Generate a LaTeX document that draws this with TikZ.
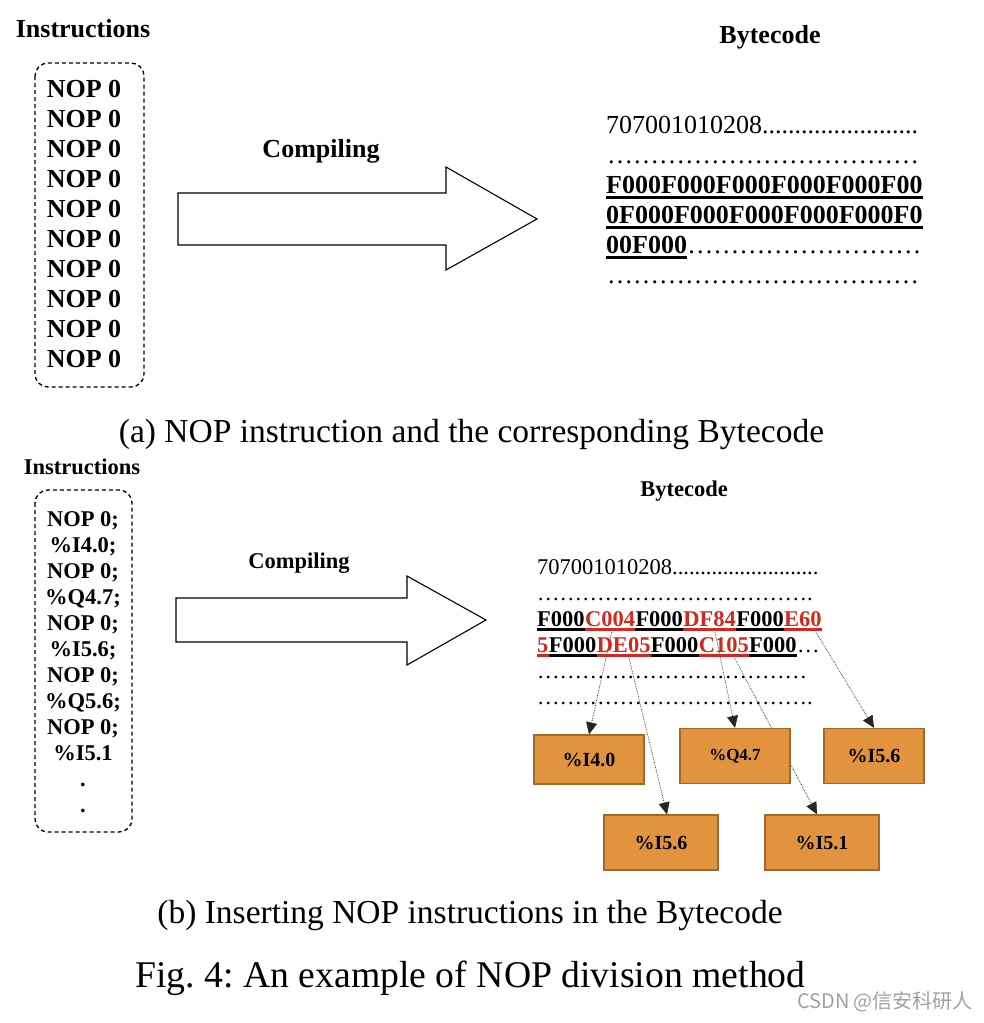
\documentclass[tikz,border=0pt]{standalone}
\usepackage{fontspec}
\setmainfont{Liberation Serif}
\newfontfamily\cjkfont{Noto Sans CJK SC}
\usetikzlibrary{arrows.meta,backgrounds}
\definecolor{redc}{RGB}{210,40,30}
\definecolor{orangec}{RGB}{225,147,62}
\definecolor{orangeb}{RGB}{160,105,45}
\definecolor{wmark}{RGB}{160,160,160}
\newcommand{\eee}{…}
\newcommand{\eeeF}{\eee\eee\eee\eee}
\pgfdeclarelayer{bgfill}
\pgfsetlayers{bgfill,background,main}
\tikzset{
  ibox/.style={draw, dash pattern=on 4pt off 3pt, line width=1.3pt, rounded corners=13pt},
  barrow/.style={draw, line width=1.1pt, fill=white},
  fa/.style={font=\fontsize{26}{30}\selectfont\bfseries, inner sep=0pt, anchor=base},
  fb/.style={font=\fontsize{22.5}{26}\selectfont\bfseries, inner sep=0pt, anchor=base},
  ta/.style={font=\fontsize{26}{30}\selectfont, inner sep=0pt, anchor=base west},
  tab/.style={font=\fontsize{26}{30}\selectfont\bfseries, inner sep=0pt, anchor=base west},
  tb/.style={font=\fontsize{22.5}{26}\selectfont, inner sep=0pt, anchor=base west},
  tbb/.style={font=\fontsize{22.5}{26}\selectfont\bfseries, inner sep=0pt, anchor=base west},
  ula/.style={line width=3pt},
  ulb/.style={line width=2.3pt},
  obox/.style={draw=orangeb, fill=orangec, line width=1.2pt, inner sep=0pt,
    font=\fontsize{20}{24}\selectfont\bfseries},
  conn/.style={draw=black!85, line width=0.7pt, densely dotted,
    -{Triangle[length=12pt,width=11pt]}},
  subcap/.style={font=\fontsize{33.5}{38}\selectfont, inner sep=0pt, anchor=base},
  figcap/.style={font=\fontsize{37.7}{42}\selectfont, inner sep=0pt, anchor=base},
}
\begin{document}
\frenchspacing
\begin{tikzpicture}[x=1pt,y=-1pt]
\begin{pgfonlayer}{bgfill}
  \fill[white] (0,0) rectangle (984,1023);
\end{pgfonlayer}
\useasboundingbox (0,0) rectangle (984,1023);

% ---------------- (a) ----------------
\node[fa] (insta) at (83,37) {Instructions};
\draw[ibox] (35,63) rectangle (144,387);
\foreach \i in {0,...,9} {
  \node[fa] (na\i) at (84,{97+30.1*\i}) {NOP 0};
}
\draw[barrow] (178,193) -- (446,193) -- (446,167) -- (537,219) -- (446,270) -- (446,245) -- (178,245) -- cycle;
\node[fa] (compa) at (321,157) {Compiling};
\node[fa] (bytea) at (770,43) {Bytecode};

\node[ta] (a1) at (606,133) {707001010208........................};
\node[ta] (a2) at (607,163) {\eeeF\eeeF\eeeF};
\node[tab] (a3) at (606,193) {F000F000F000F000F000F00};
\node[tab] (a4) at (606,223) {0F000F000F000F000F000F0};
\node[tab] (a5) at (606,253) {00F000};
\node[ta] (a5b) at (a5.base east) {\eeeF\eeeF\eee};
\node[ta] (a6) at (607,283) {\eeeF\eeeF\eeeF};
\foreach \n in {a3,a4,a5} {
  \draw[ula] ([yshift=-4pt]\n.base west) -- ([yshift=-4pt]\n.base east);
}

\node[subcap] (capa) at (471.5,442) {(a) NOP instruction and the corresponding Bytecode};

% ---------------- (b) ----------------
\node[fb] (instb) at (82,474) {Instructions};
\draw[ibox] (35,490) rectangle (132,832);
\foreach \t [count=\i from 0] in {NOP 0;,\%I4.0;,NOP 0;,\%Q4.7;,NOP 0;,\%I5.6;,NOP 0;,\%Q5.6;,NOP 0;,\%I5.1,.,.} {
  \node[fb] (nb\i) at (83,{526+26*\i}) {\t};
}
\draw[barrow] (176,598) -- (407,598) -- (407,576) -- (486,620) -- (407,665) -- (407,642) -- (176,642) -- cycle;
\node[fb] (compb) at (299,568) {Compiling};
\node[fb] (byteb) at (684,496) {Bytecode};

\node[tb] (b1) at (537,574) {707001010208..........................};
\node[tb] (b2) at (537,600) {\eeeF\eeeF\eeeF.};
% line 3
\node[tbb] (s1) at (537,626) {F000};
\node[tbb,text=redc] (s2) at (s1.base east) {C004};
\node[tbb] (s3) at (s2.base east) {F000};
\node[tbb,text=redc] (s4) at (s3.base east) {DF84};
\node[tbb] (s5) at (s4.base east) {F000};
\node[tbb,text=redc] (s6) at (s5.base east) {E60};
% line 4
\node[tbb,text=redc] (r1) at (537,652) {5};
\node[tbb] (r2) at (r1.base east) {F000};
\node[tbb,text=redc] (r3) at (r2.base east) {DE05};
\node[tbb] (r4) at (r3.base east) {F000};
\node[tbb,text=redc] (r5) at (r4.base east) {C105};
\node[tbb] (r6) at (r5.base east) {F000};
\node[tb] (r7) at (r6.base east) {\eee};
\foreach \n/\c in {s1/black,s2/redc,s3/black,s4/redc,s5/black,s6/redc,r1/redc,r2/black,r3/redc,r4/black,r5/redc,r6/black} {
  \draw[ulb,\c] ([yshift=-3.5pt]\n.base west) -- ([yshift=-3.5pt]\n.base east);
}
\node[tb] (b5) at (537,678) {\eeeF\eeeF\eeeF};
\node[tb] (b6) at (537,704) {\eeeF\eeeF\eeeF.};

% boxes
\node[obox, minimum width=110pt, minimum height=49pt] (o1) at (589,759.5) {\%I4.0};
\node[obox, minimum width=110pt, minimum height=55pt, font=\fontsize{17}{20}\selectfont\bfseries] (o2) at (735,756) {\%Q4.7};
\node[obox, minimum width=100pt, minimum height=55pt] (o3) at (874,756) {\%I5.6};
\node[obox, minimum width=114pt, minimum height=55pt] (o4) at (661,842.5) {\%I5.6};
\node[obox, minimum width=114pt, minimum height=55pt] (o5) at (822,842.5) {\%I5.1};

\coordinate (p1) at ([xshift=2pt,yshift=-4pt]s2.south);
\coordinate (p2) at ([xshift=5pt,yshift=-4pt]s4.south);
\coordinate (p3) at ([xshift=12pt,yshift=-4pt]s6.south);
\coordinate (p4) at ([xshift=5pt,yshift=-4pt]r3.south);
\coordinate (p5) at ([xshift=10pt,yshift=-4pt]r5.south);
\begin{pgfonlayer}{background}
  \draw[conn] (p1) -- (o1.north);
  \draw[conn] (p2) -- (o2.north);
  \draw[conn] (p3) -- (o3.north);
  \draw[conn] (p4) -- ([xshift=6pt]o4.north);
  \draw[conn] (p5) -- ([xshift=-5pt]o5.north);
\end{pgfonlayer}

\node[subcap] (capb) at (470,923) {(b) Inserting NOP instructions in the Bytecode};
\node[figcap] (fig) at (470.5,987) {Fig. 4: An example of NOP division method};
\node[font=\cjkfont\fontsize{20}{24}\selectfont, text=wmark, inner sep=0pt, anchor=base] (wm) at (885,1008) {CSDN @信安科研人};
\end{tikzpicture}
\end{document}
